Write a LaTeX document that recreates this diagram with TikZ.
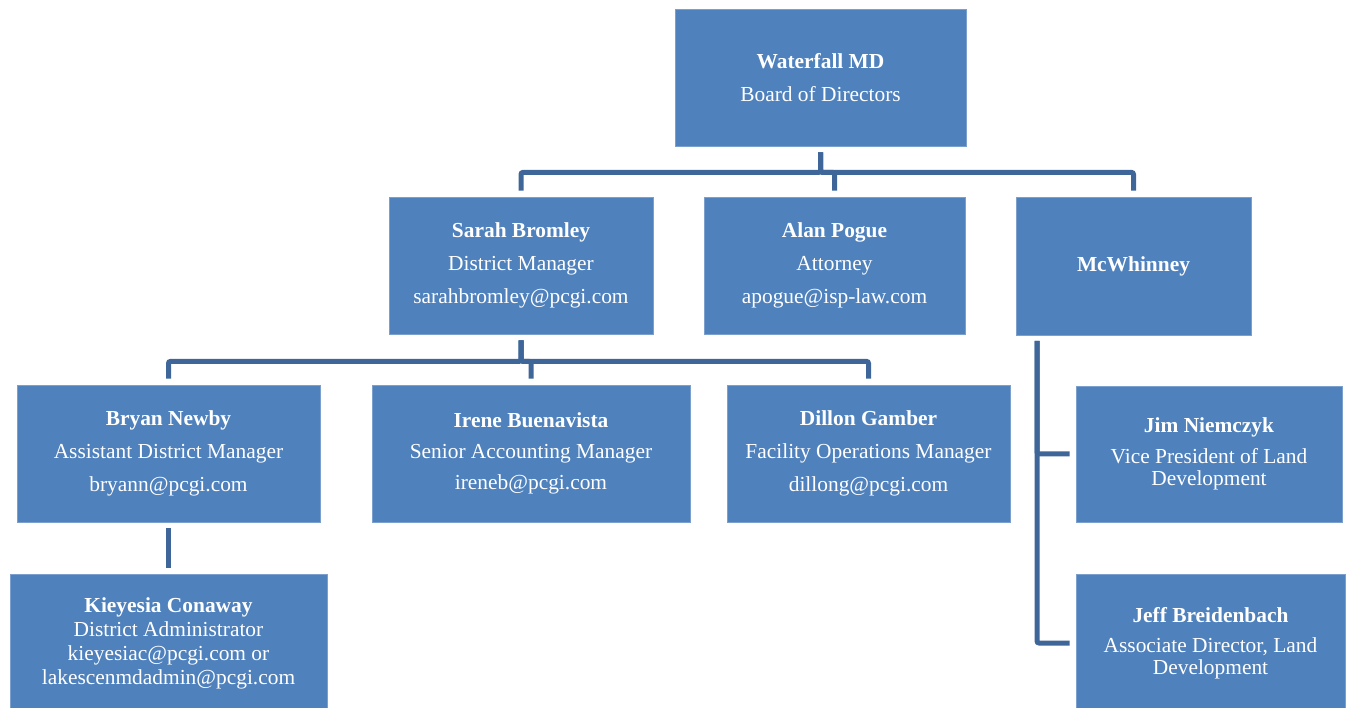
\documentclass[tikz,border=0pt]{standalone}
\usepackage{fontspec}
\setmainfont{Liberation Serif}
\definecolor{boxblue}{HTML}{4F81BD}
\definecolor{lineblue}{HTML}{3E6699}

\begin{document}
\begin{tikzpicture}[x=1pt,y=-1pt,
  box/.style={fill=boxblue, draw=boxblue!75!white, line width=0.8pt, text=white,
    align=center, inner sep=0pt, font=\fontsize{21.4}{22}\selectfont},
  conn/.style={draw=lineblue, line width=5pt, rounded corners=2pt,
    shorten <=6pt, shorten >=6pt}]
\useasboundingbox (0,0) rectangle (1350,708);

% Boxes
\node[box, minimum width=291pt, minimum height=137pt] (wf) at (820.5,77.5)
  {\textbf{Waterfall MD}\\[11pt]Board of Directors};
\node[box, minimum width=264pt, minimum height=137pt] (sarah) at (521,265.5)
  {\textbf{Sarah Bromley}\\[11pt]District Manager\\[11pt]sarahbromley@pcgi.com};
\node[box, minimum width=261pt, minimum height=137pt] (alan) at (834.5,265.5)
  {\textbf{Alan Pogue}\\[11pt]Attorney\\[11pt]apogue@isp-law.com};
\node[box, minimum width=235pt, minimum height=138pt] (mcw) at (1133.5,266)
  {\textbf{McWhinney}};
\node[box, minimum width=303pt, minimum height=137pt] (bryan) at (168.5,453.5)
  {\textbf{Bryan Newby}\\[11pt]Assistant District Manager\\[11pt]bryann@pcgi.com};
\node[box, minimum width=318pt, minimum height=137pt] (irene) at (531,453.5)
  {\textbf{Irene Buenavista}\\[9pt]Senior Accounting Manager\\[9pt]ireneb@pcgi.com};
\node[box, minimum width=283pt, minimum height=137pt] (dillon) at (868.5,453.5)
  {\textbf{Dillon Gamber}\\[11pt]Facility Operations Manager\\[11pt]dillong@pcgi.com};
\node[box, minimum width=317pt, minimum height=139pt] (kc) at (168.5,643.5)
  {\textbf{Kieyesia Conaway}\\[2pt]District Administrator\\[2pt]kieyesiac@pcgi.com or\\[2pt]lakescenmdadmin@pcgi.com};
\node[box, minimum width=266pt, minimum height=136pt] (jim) at (1209,454)
  {\textbf{Jim Niemczyk}\\[9pt]Vice President of Land\\Development};
\node[box, minimum width=269pt, minimum height=138pt] (jeff) at (1210.5,643)
  {\textbf{Jeff Breidenbach}\\[8pt]Associate Director, Land\\Development};

% Connectors
\draw[conn] (wf.south) -- ++(0,26) -| (sarah.north);
\draw[conn] (wf.south) -- ++(0,26) -| (alan.north);
\draw[conn] (wf.south) -- ++(0,26) -| (mcw.north);

\draw[conn] (sarah.south) -- ++(0,27) -| (bryan.north);
\draw[conn] (sarah.south) -- ++(0,27) -| (irene.north);
\draw[conn] (sarah.south) -- ++(0,27) -| (dillon.north);

\draw[conn] (bryan) -- (kc);

\coordinate (mcwleg) at (1037,335);
\draw[conn] (mcwleg) |- (jim.west);
\draw[conn] (mcwleg) |- (jeff.west);
\end{tikzpicture}
\end{document}
